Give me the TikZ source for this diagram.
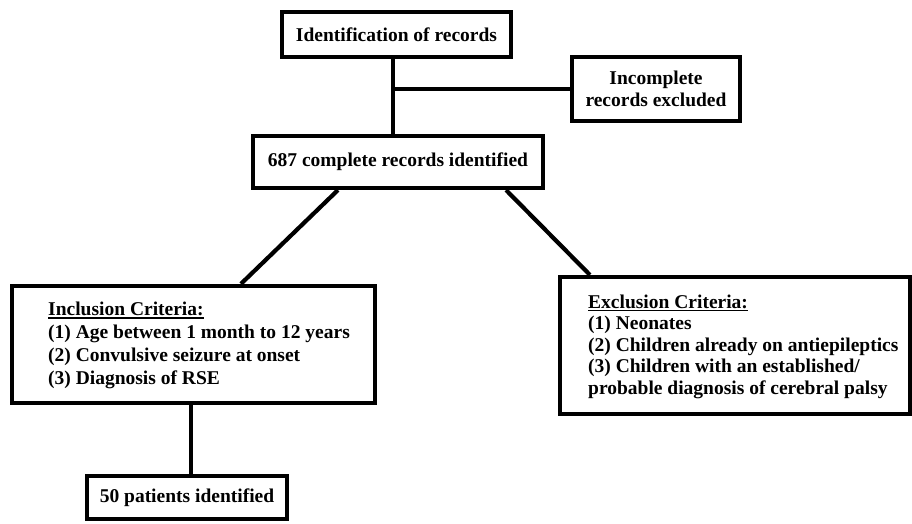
\documentclass[tikz,border=0pt]{standalone}
\usepackage{fontspec}
\setmainfont{Liberation Serif}
\usetikzlibrary{calc}
\newcommand{\myul}[1]{\leavevmode\setbox0\hbox{#1}\rlap{\rule[-3.2pt]{\wd0}{1.5pt}}\box0}
\tikzset{
  box/.style={draw=black, line width=4.2pt, fill=white, inner sep=0pt, align=center,
    font=\fontsize{19.5}{22}\selectfont\bfseries},
  txt/.style={inner sep=0pt, align=left, anchor=north west},
  conn/.style={line width=4.2pt, draw=black}
}
\begin{document}
\begin{tikzpicture}[x=1pt,y=-1pt]
\useasboundingbox (0,0) rectangle (912,523);
\node[box, minimum width=229pt, minimum height=45pt] (top) at (396.5,34.5) {Identification of records};
\node[box, minimum width=168pt, minimum height=64pt] (inc) at (656,89) {Incomplete\\records excluded};
\node[box, minimum width=290pt, minimum height=52pt] (rec) at (398,162) {687 complete records identified};
\node[box, minimum width=363pt, minimum height=117pt] (incl) at (193.5,344.5) {};
\node[box, minimum width=350pt, minimum height=137pt] (excl) at (735,345.5) {};
\node[box, minimum width=200pt, minimum height=43pt] (pat) at (187,497.5) {50 patients identified};

\node[txt, font=\fontsize{19.5}{22.9}\selectfont\bfseries] (incltxt) at (48,302)
  {\myul{Inclusion Criteria:}\\(1) Age between 1 month to 12 years\\(2) Convulsive seizure at onset\\(3) Diagnosis of RSE};
\node[txt, font=\fontsize{19.5}{21.5}\selectfont\bfseries] (excltxt) at (588,294.5)
  {\myul{Exclusion Criteria:}\\(1) Neonates\\(2) Children already on antiepileptics\\(3) Children with an established/\\probable diagnosis of cerebral palsy};

\coordinate (ts) at ($(top.south west)+(113,0)$);
\coordinate (br) at (ts |- inc.west);
\draw[conn] (ts) -- (ts |- rec.north);
\draw[conn] (br) -- (inc.west);
\draw[conn] ($(rec.south west)+(87,0)$) -- ($(incl.north west)+(231,0)$);
\draw[conn] ($(rec.south east)+(-39,0)$) -- ($(excl.north west)+(32,0)$);
\coordinate (is) at ($(incl.south west)+(181,0)$);
\draw[conn] (is) -- (is |- pat.north);
\end{tikzpicture}
\end{document}
